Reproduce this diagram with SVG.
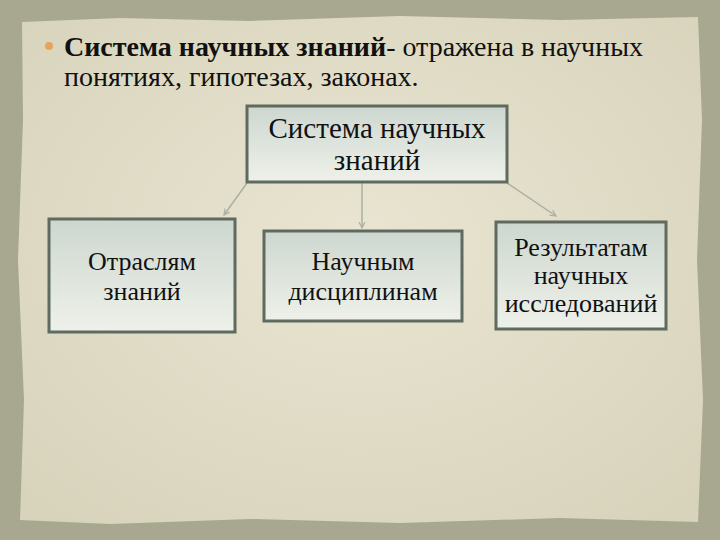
<svg xmlns="http://www.w3.org/2000/svg" width="720" height="540" viewBox="0 0 720 540">
<defs>
<linearGradient id="bx" x1="0" y1="0" x2="0" y2="1"><stop offset="0" stop-color="#cdd7cf"/><stop offset="1" stop-color="#eef1ea"/></linearGradient>
<radialGradient id="pp" cx="0.5" cy="0.45" r="0.7"><stop offset="0" stop-color="#e9e5d2"/><stop offset="1" stop-color="#d8d3bb"/></radialGradient>
<marker id="ah" markerWidth="8" markerHeight="8" refX="6" refY="4" orient="auto" markerUnits="userSpaceOnUse"><path d="M0,1 L6,4 L0,7" fill="none" stroke="#a9b1a4" stroke-width="1.2"/></marker>
<style>
.box{fill:url(#bx);stroke:#5e6b5e;stroke-width:3}
.t{font-family:"Liberation Serif",serif;font-size:26px;fill:#111;text-anchor:middle}
.r{font-size:29px}
.h{font-family:"Liberation Serif",serif;font-size:28px;fill:#111}
.c{stroke:#a9b1a4;stroke-width:1.5;fill:none;marker-end:url(#ah)}
</style>
</defs>
<rect width="720" height="540" fill="#a7a88f"/>
<path d="M22,22 L120,18 L250,21 L400,16 L560,20 L698,17 L702,120 L697,260 L703,400 L698,522 L560,518 L400,523 L250,519 L110,524 L20,520 L24,400 L18,260 L23,120 Z" fill="url(#pp)"/>
<circle cx="49" cy="46" r="4" fill="#e8a45a"/>
<text class="h" x="64" y="56"><tspan font-weight="bold">Система научных знаний</tspan>- отражена в научных</text>
<text class="h" x="64" y="86">понятиях, гипотезах, законах.</text>
<g id="connectors">
<line class="c" x1="247" y1="183" x2="224" y2="215"/>
<line class="c" x1="362" y1="183" x2="362" y2="228"/>
<line class="c" x1="507" y1="183" x2="556" y2="216"/>
</g>
<g id="root"><rect class="box" x="247" y="106" width="260" height="76"/><text class="t r" x="377" y="138">Система научных</text><text class="t r" x="377" y="170">знаний</text></g>
<g id="n1"><rect class="box" x="49" y="219" width="186" height="113"/><text class="t" x="142" y="270">Отраслям</text><text class="t" x="142" y="300">знаний</text></g>
<g id="n2"><rect class="box" x="264" y="231" width="198" height="90"/><text class="t" x="363" y="270">Научным</text><text class="t" x="363" y="300">дисциплинам</text></g>
<g id="n3"><rect class="box" x="496" y="222" width="170" height="107"/><text class="t" x="581" y="256">Результатам</text><text class="t" x="581" y="284">научных</text><text class="t" x="581" y="312">исследований</text></g>
</svg>
